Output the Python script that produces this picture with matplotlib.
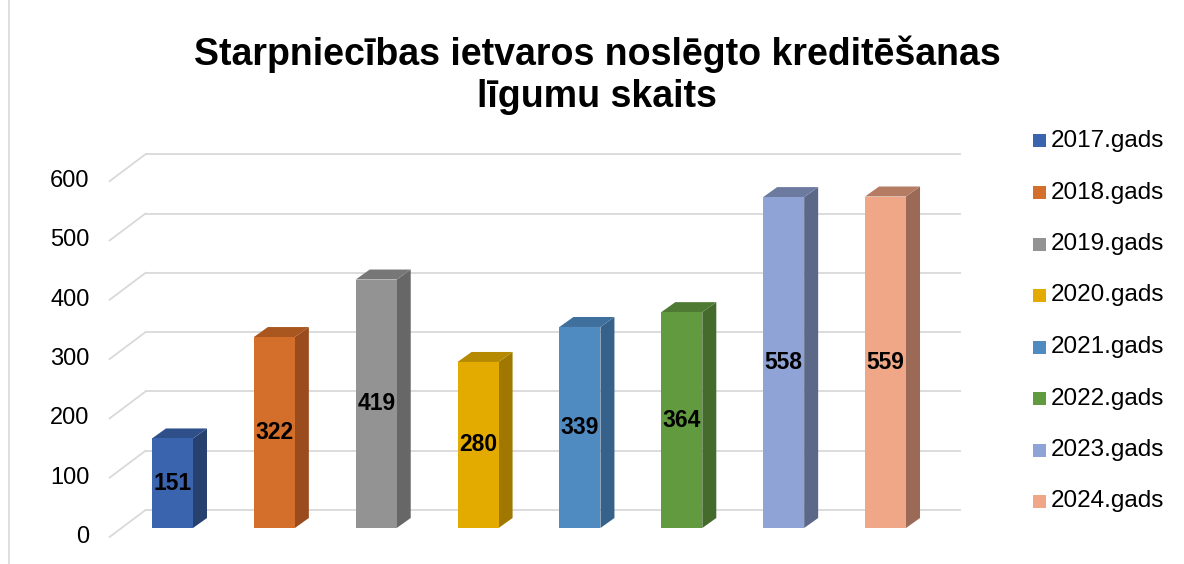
import matplotlib.pyplot as plt
from matplotlib.patches import Polygon, Rectangle

plt.rcParams['font.family'] = ['Liberation Sans', 'DejaVu Sans']

# data
years = ["2017.gads", "2018.gads", "2019.gads", "2020.gads",
         "2021.gads", "2022.gads", "2023.gads", "2024.gads"]
values = [151, 322, 419, 280, 339, 364, 558, 559]
front_colors = ["#3B64AE", "#D46E2B", "#939393", "#E3AA00",
                "#4F8AC0", "#619A3F", "#90A3D6", "#F0A788"]
side_colors = ["#27416F", "#9A4C1E", "#676767", "#A07800",
               "#36618A", "#446B2C", "#5C6888", "#9B6A57"]
top_colors = ["#2E4F8A", "#A9561F", "#777777", "#B58900",
              "#3F6F9C", "#4E7A33", "#6C7AA0", "#B57B63"]
yticks = [0, 100, 200, 300, 400, 500, 600]

title = "Starpniecības ietvaros noslēgto kreditēšanas\nlīgumu skaits"

W, H = 1184, 564
fig = plt.figure(figsize=(W / 100, H / 100), dpi=100)

# axes in pixel terms: bar front plane, value 0 at y=528, 0.593 px per unit
px_per_x = 101.86
px_per_y = 0.593
x0_px = 172.5
ax_left, ax_right = 100, 980
ax_bottom_px, ax_top_px = 528, 120
ax = fig.add_axes([ax_left / W, (H - ax_bottom_px) / H,
                   (ax_right - ax_left) / W, (ax_bottom_px - ax_top_px) / H])
ax.set_xlim((ax_left - x0_px) / px_per_x, (ax_right - x0_px) / px_per_x)
ax.set_ylim(0, (ax_bottom_px - ax_top_px) / px_per_y)
ax.axis('off')

# 3d depth vectors (pixels -> data)
ddx, ddy = 36 / px_per_x, 27 / px_per_y      # floor depth
bdx, bdy = 14 / px_per_x, 10 / px_per_y      # bar depth
wall_l, wall_r = -0.5, 7.5
grid_c = "#D9D9D9"

for v in yticks:
    # back wall line
    ax.plot([wall_l + 2 * ddx / 3, wall_r + 2 * ddx / 3],
            [v + 2 * ddy / 3, v + 2 * ddy / 3],
            color=grid_c, lw=1.3, clip_on=False, zorder=1)
    # side wall diagonal
    ax.plot([wall_l - ddx / 3, wall_l + 2 * ddx / 3],
            [v - ddy / 3, v + 2 * ddy / 3],
            color=grid_c, lw=1.3, clip_on=False, zorder=1)
    ax.text(wall_l - ddx / 3 - 20 / px_per_x, v - ddy / 3, str(v),
            ha='right', va='center', fontsize=17, color="#000000")

bw = 41 / px_per_x
for i, (v, fc, sc, tc) in enumerate(zip(values, front_colors, side_colors, top_colors)):
    xl, xr = i - bw / 2, i + bw / 2
    ax.add_patch(Polygon([(xr, 0), (xr + bdx, bdy), (xr + bdx, v + bdy), (xr, v)],
                         closed=True, facecolor=sc, edgecolor='none', zorder=3))
    ax.add_patch(Polygon([(xl, v), (xr, v), (xr + bdx, v + bdy), (xl + bdx, v + bdy)],
                         closed=True, facecolor=tc, edgecolor='none', zorder=3))
    ax.bar(i, v, width=bw, color=fc, zorder=4)
    ax.text(i, v / 2, str(v), ha='center', va='center', fontsize=16.5,
            fontweight='bold', color='black', zorder=5)

# legend
for i, (lab, fc) in enumerate(zip(years, front_colors)):
    yc = 141 + i * 51.5
    fig.patches.append(Rectangle((1033 / W, (H - yc - 6.5) / H), 13 / W, 13 / H,
                                 transform=fig.transFigure, facecolor=fc,
                                 edgecolor='none'))
    fig.text(1051 / W, (H - yc) / H, lab, ha='left', va='center',
             fontsize=17.5, color='black')

fig.text(597 / W, (H - 75) / H, title, ha='center', va='center',
         fontsize=27, fontweight='bold', linespacing=1.2)

# chart frame left border
fig.add_artist(plt.Line2D([8.5 / W, 8.5 / W], [0, 1], color="#D9D9D9",
                          lw=1.2, transform=fig.transFigure))

fig.savefig("out.png", dpi=100)
